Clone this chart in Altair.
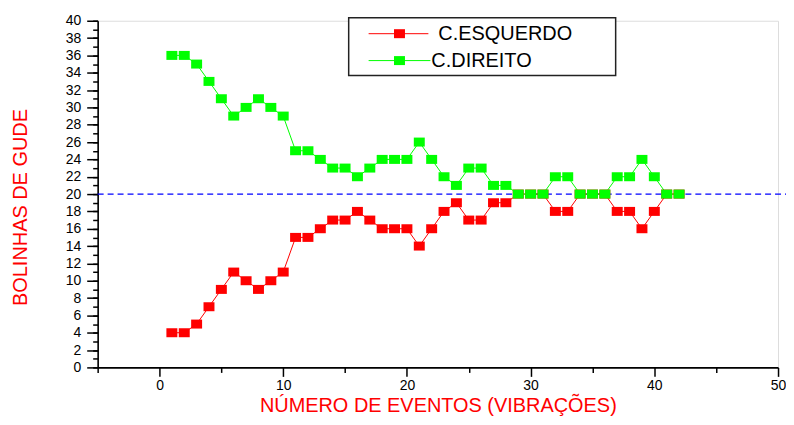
import altair as alt
import pandas as pd

# ---- data ----
eventos = list(range(1, 43))
esquerdo = [4, 4, 5, 7, 9, 11, 10, 9, 10, 11, 15, 15, 16, 17, 17, 18, 17, 16, 16, 16, 14,
            16, 18, 19, 17, 17, 19, 19, 20, 20, 20, 18, 18, 20, 20, 20, 18, 18, 16, 18, 20, 20]
direito = [36, 36, 35, 33, 31, 29, 30, 31, 30, 29, 25, 25, 24, 23, 23, 22, 23, 24, 24, 24, 26,
           24, 22, 21, 23, 23, 21, 21, 20, 20, 20, 22, 22, 20, 20, 20, 22, 22, 24, 22, 20, 20]
series_names = ["C.ESQUERDO", "C.DIREITO"]
series_colors = ["#ff0000", "#00ff00"]
x_major = [0, 10, 20, 30, 40, 50]
x_minor = [-5, 5, 15, 25, 35, 45]
y_major = list(range(0, 41, 2))
y_minor = list(range(0, 41, 1))
nivel = 20
x_title = "NÚMERO DE EVENTOS (VIBRAÇÕES)"
y_title = "BOLINHAS DE GUDE"

df = pd.DataFrame({
    "evento": eventos + eventos,
    "valor": esquerdo + direito,
    "serie": [series_names[0]] * len(eventos) + [series_names[1]] * len(eventos),
})

FONT = "Liberation Sans"
W, H = 683, 348
SQUARE = "M-1,-0.82H1V0.82H-1Z"

xs = alt.Scale(domain=[-5, 50], nice=False, zero=False)
ys = alt.Scale(domain=[0, 40], nice=False, zero=False)
cs = alt.Scale(domain=series_names, range=series_colors)

common_axis = dict(grid=False, domainColor="black", tickColor="black", labelColor="black",
                   domainWidth=1.6, tickWidth=1.5, labelFont=FONT, labelFontSize=14)

x_axis_major = alt.Axis(values=x_major, tickSize=9, labelPadding=2, labelFlush=False,
                        labelOverlap=False, title=x_title, titleColor="#ff0000",
                        titleFont=FONT, titleFontSize=20, titleFontWeight="normal",
                        titleY=44, titleBaseline="alphabetic", orient="bottom", **common_axis)
y_axis_major = alt.Axis(values=y_major, tickSize=11, labelPadding=6, labelFlush=False,
                        labelOverlap=False, title=y_title, titleColor="#ff0000",
                        titleFont=FONT, titleFontSize=20, titleFontWeight="normal",
                        titleX=-71, titleY=187, titleBaseline="alphabetic", orient="left",
                        **common_axis)
x_axis_minor = alt.Axis(values=x_minor, tickSize=5, labels=False, title=None, domain=False,
                        orient="bottom", grid=False, tickColor="black", tickWidth=1.5)
y_axis_minor = alt.Axis(values=y_minor, tickSize=5, labels=False, title=None, domain=False,
                        orient="left", grid=False, tickColor="black", tickWidth=1.5)

base = alt.Chart(df)

lines = base.mark_line(strokeWidth=1).encode(
    x=alt.X("evento:Q", scale=xs, axis=x_axis_major),
    y=alt.Y("valor:Q", scale=ys, axis=y_axis_major),
    color=alt.Color("serie:N", scale=cs, legend=None),
    detail="serie:N",
)

points = base.mark_point(shape=SQUARE, filled=True, size=121, opacity=1).encode(
    x=alt.X("evento:Q", scale=xs, axis=None),
    y=alt.Y("valor:Q", scale=ys, axis=None),
    color=alt.Color("serie:N", scale=cs, legend=None),
)

one = pd.DataFrame({"k": [0]})

ref = alt.Chart(one).mark_rule(color="#0000ff", strokeWidth=1.3, strokeDash=[6, 4]).encode(
    x=alt.X(datum=-5, type="quantitative", scale=xs, axis=x_axis_minor),
    x2=alt.X2(datum=50.7),
    y=alt.Y(datum=nivel, type="quantitative", scale=ys, axis=y_axis_minor),
)

# ---- custom legend (box with line+square samples) ----
legend_box = alt.Chart(one).mark_rect(fill="white", stroke="#222222", strokeWidth=1.5).encode(
    x=alt.value(252), x2=alt.value(520), y=alt.value(-3), y2=alt.value(55)
)


def legend_row(name, color, ypos, x_text, x_end):
    src = alt.Chart(one)
    seg = src.mark_rule(color=color, strokeWidth=1).encode(
        x=alt.value(272), x2=alt.value(x_end), y=alt.value(ypos))
    sym = src.mark_point(shape=SQUARE, filled=True, size=121, opacity=1, color=color).encode(
        x=alt.value(303), y=alt.value(ypos))
    txt = src.mark_text(text=name, align="left", baseline="middle", font=FONT,
                        fontSize=20, color="black").encode(
        x=alt.value(x_text), y=alt.value(ypos))
    return [seg, sym, txt]


legend_layers = [legend_box]
legend_layers += legend_row(series_names[0], series_colors[0], 13, 342, 332)
legend_layers += legend_row(series_names[1], series_colors[1], 40, 335, 334)

chart = alt.layer(ref, lines, points, *legend_layers).resolve_axis(
    x="independent", y="independent"
).properties(
    width=W, height=H,
    autosize=alt.AutoSizeParams(type="none"),
    padding={"left": 90, "top": 12, "right": 8, "bottom": 49},
).configure_view(stroke=None).configure(background="white")

chart.save("out.html", embed_options={"renderer": "svg", "actions": False})
